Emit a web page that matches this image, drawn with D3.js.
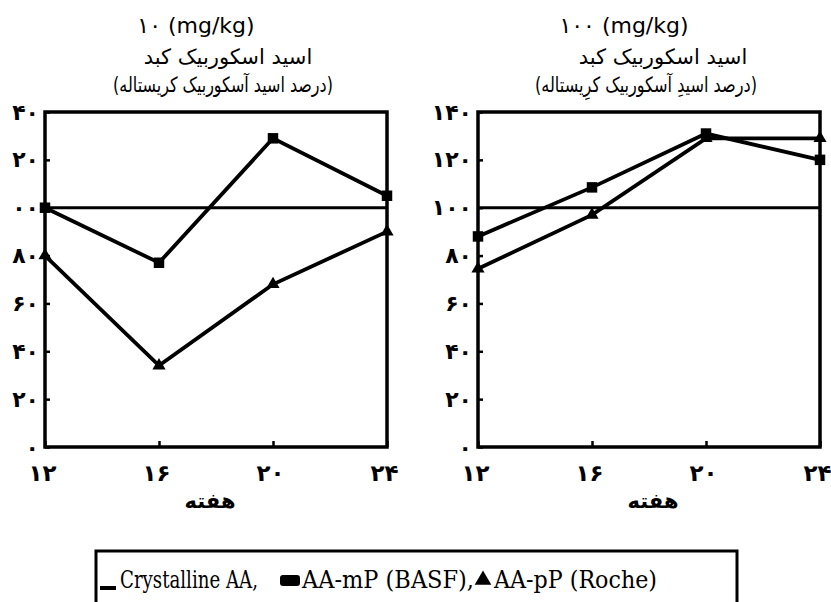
<!DOCTYPE html>
<html>
<head>
<meta charset="utf-8">
<script src="https://cdn.jsdelivr.net/npm/d3@7"></script>
<style>
  body { margin: 0; background: #fff; }
  svg { display: block; }
</style>
</head>
<body>
<svg id="chart" width="831" height="602"></svg>
<script>
// Weeks on the x axis and their Persian labels
const weeks = [12, 16, 20, 24];
const weekLabels = ["۱۲", "۱۶", "۲۰", "۲۴"];

// Y axis ticks (% of crystalline ascorbic acid) and their printed labels
const yTicks = [0, 20, 40, 60, 80, 100, 120, 140];
const leftTickLabels = ["۰", "۲۰", "۴۰", "۶۰", "۸۰", "۰۰", "۲۰", "۴۰"];
const rightTickLabels = ["۰", "۲۰", "۴۰", "۶۰", "۸۰", "۱۰۰", "۱۲۰", "۱۴۰"];

// Crystalline AA reference level
const crystallineAA = 100;

// Liver ascorbic acid, 10 mg/kg
const basf10 = [100, 77, 129, 105];
const roche10 = [80, 34, 68, 90];

// Liver ascorbic acid, 100 mg/kg
const basf100 = [88, 108.5, 131, 120];
const roche100 = [74.5, 97, 129, 129];

// Text
const titles = ["۱۰ (mg/kg)", "۱۰۰ (mg/kg)"];
const subTitle1 = ["اسید اسکوربیک کبد", "اسید اسکوربیک کبد"];
const subTitle2 = ["(درصد اسید آسکوربیک کریستاله)", "(درصد اسیدِ آسکوربیک کرِیستاله)"];
const xAxisTitle = "هفته";
const legendLabels = ["Crystalline AA,", "AA-mP (BASF),", "AA-pP (Roche)"];

const svg = d3.select("#chart");
const sansFont = "'DejaVu Sans', sans-serif";

const panels = [
  { x0: 45, x1: 387, basf: basf10, roche: roche10, tickLabels: leftTickLabels,
    title: titles[0], sub1: subTitle1[0], sub2: subTitle2[0],
    titleX: 196, sub1X: 228, sub2X: 223, sub2W: 220, xTitleX: 210 },
  { x0: 478, x1: 820, basf: basf100, roche: roche100, tickLabels: rightTickLabels,
    title: titles[1], sub1: subTitle1[1], sub2: subTitle2[1],
    titleX: 624, sub1X: 663, sub2X: 646, sub2W: 222, xTitleX: 653 }
];

const y = d3.scaleLinear().domain([0, 140]).range([447, 112]);

// Centred Arabic line, squeezed horizontally to a given width
function fittedLine(g, str, cx, cy, width, size) {
  const t = g.append("text").attr("x", 0).attr("y", 0)
    .attr("text-anchor", "middle").attr("direction", "rtl")
    .attr("font-family", sansFont).attr("font-size", size).text(str);
  const w = t.node().getBBox().width || width;
  t.attr("transform", `translate(${cx},${cy}) scale(${width / w},1)`);
}

panels.forEach(p => {
  const x = d3.scaleLinear().domain([12, 24]).range([p.x0, p.x1]);
  const g = svg.append("g");

  // Titles
  g.append("text").attr("x", p.titleX).attr("y", 33)
    .attr("text-anchor", "middle").attr("font-family", sansFont)
    .attr("font-size", 22).text(p.title);
  g.append("text").attr("x", p.sub1X).attr("y", 64)
    .attr("text-anchor", "middle").attr("direction", "rtl")
    .attr("font-family", sansFont).attr("font-size", 21).text(p.sub1);
  fittedLine(g, p.sub2, p.sub2X, 92, p.sub2W, 21);

  // Y axis (inward ticks)
  g.append("g").attr("transform", `translate(${p.x0},0)`)
    .call(d3.axisLeft(y).tickValues(yTicks).tickSize(-5).tickPadding(6)
      .tickFormat((d, i) => p.tickLabels[i]))
    .call(a => a.select(".domain").remove())
    .call(a => a.selectAll("line").attr("stroke", "#000").attr("stroke-width", 2.5))
    .call(a => a.selectAll("text").attr("font-family", sansFont)
      .attr("font-weight", "bold").attr("font-size", 22).attr("fill", "#000"));

  // X axis (inward ticks)
  g.append("g").attr("transform", `translate(0,${y(0)})`)
    .call(d3.axisBottom(x).tickValues(weeks).tickSize(-6)
      .tickFormat((d, i) => weekLabels[i]))
    .call(a => a.select(".domain").remove())
    .call(a => a.selectAll("line").attr("stroke", "#000").attr("stroke-width", 2.5))
    .call(a => a.selectAll("text").attr("y", 34).attr("dy", 0).attr("dx", -3)
      .attr("font-family", sansFont).attr("font-weight", "bold")
      .attr("font-size", 23).attr("fill", "#000"));

  g.append("text").attr("x", p.xTitleX).attr("y", 508)
    .attr("text-anchor", "middle").attr("direction", "rtl")
    .attr("font-family", sansFont).attr("font-weight", "bold")
    .attr("font-size", 21).text(xAxisTitle);

  // Plot frame
  g.append("rect")
    .attr("x", x(12)).attr("y", y(140))
    .attr("width", x(24) - x(12)).attr("height", y(0) - y(140))
    .attr("fill", "none").attr("stroke", "#000").attr("stroke-width", 3.5);

  // Crystalline AA reference line
  g.append("line")
    .attr("x1", x(12)).attr("x2", x(24))
    .attr("y1", y(crystallineAA)).attr("y2", y(crystallineAA))
    .attr("stroke", "#000").attr("stroke-width", 3);

  const line = d3.line().x((d, i) => x(weeks[i])).y(d => y(d));

  [[p.basf, d3.symbolSquare, 110], [p.roche, d3.symbolTriangle, 75]].forEach(([vals, sym, size]) => {
    g.append("path").datum(vals).attr("d", line)
      .attr("fill", "none").attr("stroke", "#000").attr("stroke-width", 3.8)
      .attr("stroke-linejoin", "miter");
    g.selectAll(null).data(vals).join("path")
      .attr("transform", (d, i) => `translate(${x(weeks[i])},${y(d)})`)
      .attr("d", d3.symbol(sym, size)).attr("fill", "#000");
  });
});

// Legend
svg.append("rect").attr("x", 96).attr("y", 551).attr("width", 641).attr("height", 80)
  .attr("fill", "none").attr("stroke", "#000").attr("stroke-width", 3);

const lg = svg.append("g").attr("transform", "translate(100,588)");
const serif = "'DejaVu Serif', serif";
// marker kind, marker width, label width for each entry
const legendLayout = [["line", 20, 138], ["rect", 22, 172], ["tri", 19, 163]];
const legendGaps = [0, 22, 1];
let cx = 0;
legendLabels.forEach((lab, i) => {
  const [kind, mw, lw] = legendLayout[i];
  cx += legendGaps[i];
  if (kind === "line") {
    lg.append("rect").attr("x", cx).attr("y", -2).attr("width", 16).attr("height", 4).attr("fill", "#000");
  } else if (kind === "rect") {
    lg.append("rect").attr("x", cx).attr("y", -13).attr("width", 20).attr("height", 11)
      .attr("rx", 3).attr("fill", "#000");
  } else {
    lg.append("path").attr("transform", `translate(${cx + 8},-8)`)
      .attr("d", d3.symbol(d3.symbolTriangle, 120)).attr("fill", "#000");
  }
  cx += mw;
  lg.append("text").attr("x", cx).attr("y", 0)
    .attr("font-family", serif).attr("font-size", 24).attr("fill", "#000")
    .attr("textLength", lw).attr("lengthAdjust", "spacingAndGlyphs").text(lab);
  cx += lw;
});
</script>
</body>
</html>
